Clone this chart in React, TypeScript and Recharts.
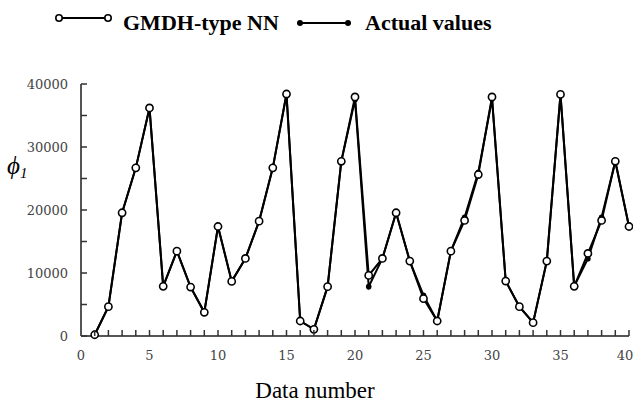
import { LineChart, Line, XAxis, YAxis } from 'recharts';

// data number (x) and the two series
const dataNumbers = [
  1, 2, 3, 4, 5, 6, 7, 8, 9, 10, 11, 12, 13, 14, 15, 16, 17, 18, 19, 20,
  21, 22, 23, 24, 25, 26, 27, 28, 29, 30, 31, 32, 33, 34, 35, 36, 37, 38, 39, 40,
];
const gmdhValues = [
  200, 4660, 19560, 26690, 36200, 7880, 13470, 7770, 3760, 17380,
  8670, 12310, 18230, 26690, 38410, 2380, 1060, 7830, 27730, 37940,
  9620, 12310, 19560, 11890, 5930, 2380, 13470, 18340, 25630, 37940,
  8720, 4660, 2120, 11890, 38350, 7880, 13100, 18340, 27730, 17380,
];
const actualValues = [
  200, 4660, 19560, 26690, 36200, 7880, 13470, 7770, 3760, 17380,
  8670, 12310, 18230, 26690, 38410, 2380, 1060, 7830, 27730, 37500,
  7830, 12310, 19560, 11890, 6450, 2380, 13470, 18860, 26000, 37620,
  8720, 4660, 2120, 11890, 38350, 7880, 12270, 18860, 27730, 17380,
];
const xTicks = [
  0, 1, 2, 3, 4, 5, 6, 7, 8, 9, 10, 11, 12, 13, 14, 15, 16, 17, 18, 19, 20,
  21, 22, 23, 24, 25, 26, 27, 28, 29, 30, 31, 32, 33, 34, 35, 36, 37, 38, 39, 40,
];
const yTicks = [0, 5000, 10000, 15000, 20000, 25000, 30000, 35000, 40000];

const data = dataNumbers.map((n, i) => ({ n, gmdh: gmdhValues[i], actual: actualValues[i] }));

const SERIF = "'Times New Roman', 'Liberation Serif', serif";
const TICK_FONT = "'DejaVu Serif', serif";

const YTick = (props: any) => {
  const { x, y, payload } = props;
  const v = payload.value;
  return (
    <g>
      <line x1={x} x2={x + 6} y1={y} y2={y} stroke="#333" strokeWidth={1.5} />
      {v % 10000 === 0 && (
        <text x={x - 13} y={y} textAnchor="end" dominantBaseline="central" fontSize={13} fill="#444" fontFamily={TICK_FONT}>
          {v}
        </text>
      )}
    </g>
  );
};

const XTick = (props: any) => {
  const { x, y, payload } = props;
  const v = payload.value;
  return (
    <g>
      {v > 0 && <line x1={x} x2={x} y1={y} y2={y - 6} stroke="#333" strokeWidth={1.5} />}
      {v % 5 === 0 && (
        <text x={v === 40 ? x - 4 : x} y={y + 24} textAnchor="middle" fontSize={13} fill="#444" fontFamily={TICK_FONT}>
          {v}
        </text>
      )}
    </g>
  );
};

const OpenDot = (props: any) => {
  const { cx, cy } = props;
  return <circle cx={cx} cy={cy} r={3.6} fill="#fff" stroke="#000" strokeWidth={1.6} />;
};

const FilledDot = (props: any) => {
  const { cx, cy } = props;
  return <circle cx={cx} cy={cy} r={2.8} fill="#000" stroke="none" />;
};

const LegendBox = () => (
  <svg width={633} height={44} style={{ position: 'absolute', left: 0, top: 0 }}>
    <line x1={59} x2={108} y1={18} y2={18} stroke="#000" strokeWidth={2} />
    <circle cx={59} cy={18} r={3.2} fill="#fff" stroke="#000" strokeWidth={1.6} />
    <circle cx={108} cy={18} r={3.2} fill="#fff" stroke="#000" strokeWidth={1.6} />
    <line x1={300} x2={348} y1={23} y2={23} stroke="#000" strokeWidth={2} />
    <circle cx={300} cy={23} r={3} fill="#000" />
    <circle cx={348} cy={23} r={3} fill="#000" />
    <text x={123} y={30} fill="#000" fontWeight="bold" fontSize={22} fontFamily={SERIF}>GMDH-type NN</text>
    <text x={365} y={30} fill="#000" fontWeight="bold" fontSize={22} fontFamily={SERIF}>Actual values</text>
  </svg>
);

export default function App() {
  return (
    <div style={{ position: 'absolute', left: 0, top: 0, width: 633, height: 418, background: '#fff', fontFamily: SERIF }}>
      <LineChart width={633} height={418} data={data} margin={{ top: 84, right: 4, bottom: 0, left: 0 }}>
        <XAxis
          type="number"
          dataKey="n"
          domain={[0, 40]}
          ticks={xTicks}
          interval={0}
          height={82}
          tickSize={0}
          tickMargin={0}
          tickLine={false}
          tick={<XTick />}
          axisLine={{ stroke: '#555', strokeWidth: 2 }}
          label={{
            content: () => (
              <text x={315} y={398} textAnchor="middle" fontSize={23} fill="#000" fontFamily={SERIF}>
                Data number
              </text>
            ),
          }}
        />
        <YAxis
          type="number"
          domain={[0, 40000]}
          ticks={yTicks}
          interval={0}
          width={81}
          tickSize={0}
          tickMargin={0}
          tickLine={false}
          tick={<YTick />}
          axisLine={{ stroke: '#555', strokeWidth: 2 }}
          label={{
            content: () => (
              <text x={7} y={174} fontSize={25} fontStyle="italic" fill="#000" fontFamily={SERIF}>
                ϕ<tspan fontSize={15} dy={4}>1</tspan>
              </text>
            ),
          }}
        />
        <Line
          type="linear"
          dataKey="actual"
          stroke="#000"
          strokeWidth={2}
          dot={<FilledDot />}
          activeDot={false}
          isAnimationActive={false}
        />
        <Line
          type="linear"
          dataKey="gmdh"
          stroke="#000"
          strokeWidth={2}
          dot={<OpenDot />}
          activeDot={false}
          isAnimationActive={false}
        />
      </LineChart>
      <LegendBox />
    </div>
  );
}
